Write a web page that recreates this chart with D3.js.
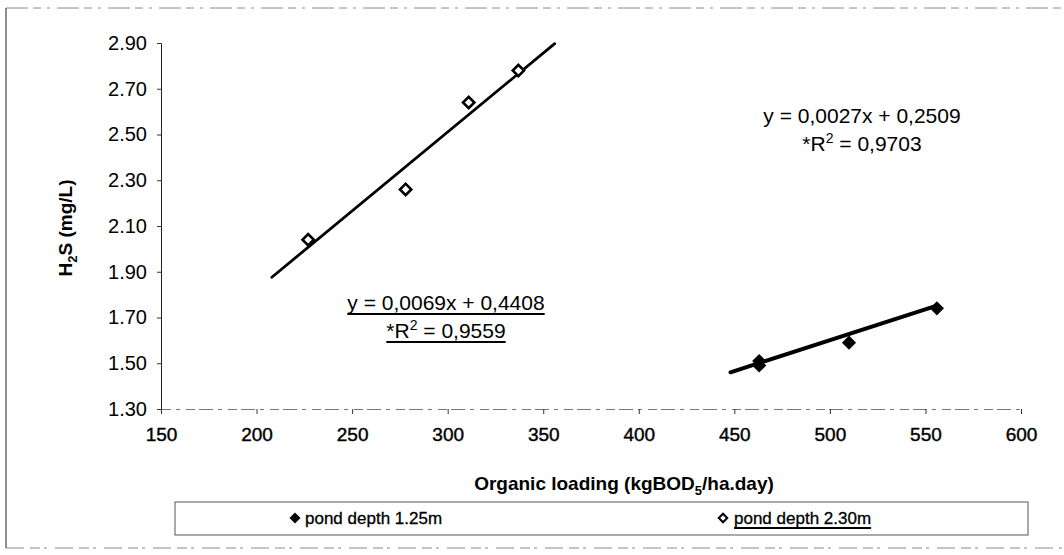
<!DOCTYPE html>
<html>
<head>
<meta charset="utf-8">
<script src="https://cdn.jsdelivr.net/npm/d3@7"></script>
<style>
  html, body { margin: 0; padding: 0; background: #fff; }
  svg { display: block; }
  text { font-family: "Liberation Sans", Arial, sans-serif; fill: #000; }
</style>
</head>
<body>
<svg id="chart" width="1064" height="555"></svg>
<script>
// Organic loading (kgBOD5/ha.day) vs H2S (mg/L) for two pond depths
const seriesNames = ["pond depth 1.25m", "pond depth 2.30m"];
const depth125X = [463, 463, 510, 556];
const depth125Y = [1.49, 1.51, 1.59, 1.74];
const depth230X = [227, 278, 311, 337];
const depth230Y = [2.04, 2.26, 2.64, 2.78];

// Linear trend lines: y = slope * x + intercept
const trendSlope = [0.0027, 0.0069];
const trendIntercept = [0.2509, 0.4408];
const trendSlopeLabel = ["0,0027", "0,0069"];
const trendInterceptLabel = ["0,2509", "0,4408"];
const trendR2Label = ["0,9703", "0,9559"];
const trendFrom = [448, 208];
const trendTo = [556, 356];

const xTicks = [150, 200, 250, 300, 350, 400, 450, 500, 550, 600];
const yTicks = [1.30, 1.50, 1.70, 1.90, 2.10, 2.30, 2.50, 2.70, 2.90];

const svg = d3.select("#chart");

// outer chart frame
const frame = svg.append("g").attr("fill", "none");
frame.append("line").attr("x1", 6).attr("y1", 8).attr("x2", 1062).attr("y2", 8)
  .attr("stroke-dasharray", "22 5 8 6 3 7").attr("stroke", "#888");
frame.append("line").attr("x1", 6).attr("y1", 8).attr("x2", 6).attr("y2", 548)
  .attr("stroke", "#444").attr("stroke-width", 1.2);
frame.append("line").attr("x1", 6).attr("y1", 548).attr("x2", 1062).attr("y2", 548)
  .attr("stroke-dasharray", "18 6 10 4 3 8").attr("stroke", "#888");

const x = d3.scaleLinear().domain([150, 600]).range([161, 1021]);
const y = d3.scaleLinear().domain([1.30, 2.90]).range([409, 43]);

// x axis
const xAxis = svg.append("g")
  .attr("transform", `translate(0,${y(1.30)})`)
  .call(d3.axisBottom(x).tickValues(xTicks).tickFormat(d3.format("d")).tickSize(5).tickPadding(14));
xAxis.select(".domain").attr("stroke", "#777").attr("stroke-dasharray", "14 5 4 6 9 4");
xAxis.selectAll(".tick line").attr("stroke", "#333");
xAxis.selectAll(".tick text")
  .attr("font-size", 19).attr("font-family", "Liberation Sans, Arial, sans-serif")
  .attr("stroke", "#000").attr("stroke-width", 0.4);

// y axis
const yAxis = svg.append("g")
  .attr("transform", `translate(${x(150)},0)`)
  .call(d3.axisLeft(y).tickValues(yTicks).tickFormat(d3.format(".2f")).tickSize(4).tickPadding(10));
yAxis.select(".domain").attr("stroke", "#222");
yAxis.selectAll(".tick line").attr("stroke", "#333");
yAxis.selectAll(".tick text")
  .attr("font-size", 20).attr("font-family", "Liberation Sans, Arial, sans-serif");

// axis titles
const xt = svg.append("text")
  .attr("x", 624).attr("y", 490)
  .attr("text-anchor", "middle").attr("font-size", 19).attr("font-weight", "bold");
xt.append("tspan").text("Organic loading (kgBOD");
xt.append("tspan").attr("font-size", 13).attr("dy", 5).text("5");
xt.append("tspan").attr("dy", -5).text("/ha.day)");

const yt = svg.append("text")
  .attr("transform", `translate(72,228) rotate(-90)`)
  .attr("text-anchor", "middle").attr("font-size", 19).attr("font-weight", "bold");
yt.append("tspan").text("H");
yt.append("tspan").attr("font-size", 13).attr("dy", 5).text("2");
yt.append("tspan").attr("dy", -5).text("S (mg/L)");

// trend lines
const trendG = svg.append("g");
trendSlope.forEach((m, i) => {
  const b = trendIntercept[i];
  trendG.append("line")
    .attr("x1", x(trendFrom[i])).attr("y1", y(m * trendFrom[i] + b))
    .attr("x2", x(trendTo[i])).attr("y2", y(m * trendTo[i] + b))
    .attr("stroke", "#000").attr("stroke-width", i === 0 ? 4 : 2.8)
    .attr("stroke-linecap", "round");
});

// markers: squares turned 45 degrees
const square = d3.symbol().type(d3.symbolSquare);
svg.append("g").selectAll("path")
  .data(depth125X.map((v, i) => [v, depth125Y[i]]))
  .join("path")
  .attr("d", square.size(100))
  .attr("transform", d => `translate(${x(d[0])},${y(d[1])}) rotate(45)`)
  .attr("fill", "#000");

svg.append("g").selectAll("path")
  .data(depth230X.map((v, i) => [v, depth230Y[i]]))
  .join("path")
  .attr("d", square.size(64))
  .attr("transform", d => `translate(${x(d[0])},${y(d[1])}) rotate(45)`)
  .attr("fill", "#fff").attr("stroke", "#000").attr("stroke-width", 2.6);

// regression equations
function equation(i, cx, yy, underline) {
  const g = svg.append("g");
  const t1 = g.append("text").attr("x", cx).attr("y", yy)
    .attr("text-anchor", "middle").attr("font-size", 21)
    .text(`y = ${trendSlopeLabel[i]}x + ${trendInterceptLabel[i]}`);
  const t2 = g.append("text").attr("x", cx).attr("y", yy + 28)
    .attr("text-anchor", "middle").attr("font-size", 21);
  t2.append("tspan").text("*R");
  t2.append("tspan").attr("font-size", 14).attr("dy", -8).text("2");
  t2.append("tspan").attr("dy", 8).text(" = " + trendR2Label[i]);
  if (underline) {
    [t1, t2].forEach(t => {
      const bb = t.node().getBBox();
      g.append("line")
        .attr("x1", bb.x).attr("x2", bb.x + bb.width)
        .attr("y1", +t.attr("y") + 4).attr("y2", +t.attr("y") + 4)
        .attr("stroke", "#000").attr("stroke-width", 2);
    });
  }
}
equation(0, 862, 123, false);
equation(1, 446, 310, true);

// legend
const lg = svg.append("g");
lg.append("rect").attr("x", 175).attr("y", 502).attr("width", 853).attr("height", 33)
  .attr("fill", "none").attr("stroke", "#555").attr("stroke-width", 1);
lg.append("path").attr("d", square.size(60))
  .attr("transform", `translate(295,518) rotate(45)`).attr("fill", "#000");
lg.append("text").attr("x", 305).attr("y", 524).attr("font-size", 17)
  .attr("stroke", "#000").attr("stroke-width", 0.3).text(seriesNames[0]);
lg.append("path").attr("d", square.size(36))
  .attr("transform", `translate(723,518) rotate(45)`)
  .attr("fill", "#fff").attr("stroke", "#000").attr("stroke-width", 2);
const l2 = lg.append("text").attr("x", 734).attr("y", 524).attr("font-size", 17)
  .attr("stroke", "#000").attr("stroke-width", 0.3).text(seriesNames[1]);
const lb = l2.node().getBBox();
lg.append("line").attr("x1", lb.x).attr("x2", lb.x + lb.width)
  .attr("y1", 528).attr("y2", 528).attr("stroke", "#000").attr("stroke-width", 1.8);
</script>
</body>
</html>
